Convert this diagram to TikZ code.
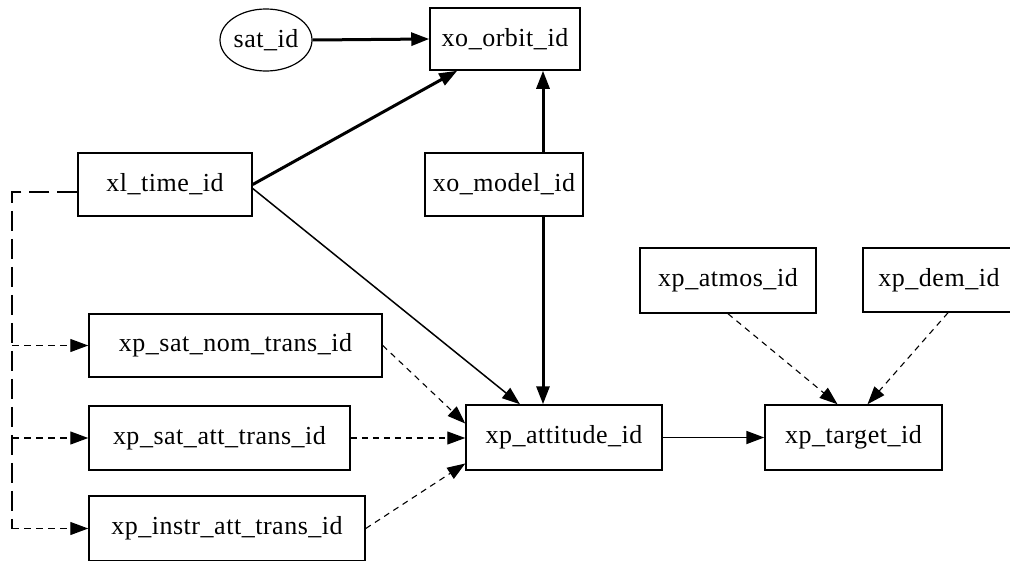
\documentclass[tikz,border=0pt]{standalone}
\usepackage{fontspec}
\newfontfamily\labfont{Liberation Serif}[LetterSpace=2]
\usetikzlibrary{shapes.geometric,arrows.meta}
\tikzset{
  box/.style={draw, line width=1.5pt, rectangle, inner sep=0pt, font=\labfont\fontsize{26pt}{30pt}\selectfont},
  oval/.style={draw, line width=1.2pt, ellipse, inner sep=0pt, font=\labfont\fontsize{26pt}{30pt}\selectfont},
  tip/.style={-{Triangle[length=18pt,width=13pt]}},
  thickedge/.style={tip, line width=3pt},
  thinedge/.style={tip, line width=1.5pt},
  medge/.style={tip, line width=1.8pt},
  dedge/.style={tip, line width=1.1pt, dash pattern=on 6pt off 5pt},
  trunk/.style={line width=1.2pt, dash pattern=on 20pt off 8pt},
  branch/.style={tip, line width=1.3pt, dash pattern=on 7pt off 5pt},
}
\begin{document}
\begin{tikzpicture}[x=1pt,y=-1pt]
\useasboundingbox (0,0) rectangle (1010,560);
\clip (0,0) rectangle (1010,560);
\fill[white] (0,0) rectangle (1010,560);
\node[oval, minimum width=92pt, minimum height=62pt] (sat) at (266,40) {sat\_id};
\node[box, minimum width=150pt, minimum height=62pt] (orbit) at (505,39) {xo\_orbit\_id};
\node[box, minimum width=174pt, minimum height=63pt] (time) at (165,184.5) {xl\_time\_id};
\node[box, minimum width=158pt, minimum height=63pt] (model) at (504,184.5) {xo\_model\_id};
\node[box, minimum width=176pt, minimum height=65pt] (atmos) at (728,280.5) {xp\_atmos\_id};
\node[box, minimum width=152pt, minimum height=64pt, text depth=6pt] (dem) at (939,280) {xp\_dem\_id};
\node[box, minimum width=293pt, minimum height=63pt] (satnom) at (235.5,345.5) {xp\_sat\_nom\_trans\_id};
\node[box, minimum width=196pt, minimum height=65pt] (att) at (564,437.5) {xp\_attitude\_id};
\node[box, minimum width=177pt, minimum height=65pt] (target) at (853.5,437.5) {xp\_target\_id};
\node[box, minimum width=261pt, minimum height=64pt] (satatt) at (219.5,438) {xp\_sat\_att\_trans\_id};
\node[box, minimum width=276pt, minimum height=65pt] (instr) at (227,528.5) {xp\_instr\_att\_trans\_id};
\coordinate (lx) at (12,0);
\coordinate (ts) at ([yshift=-7.5pt]time.west);

\draw[thickedge] (sat.east) -- (orbit.west);
\draw[thickedge] (time.east) -- ([xshift=28pt]orbit.south west);
\draw[thickedge] ([xshift=39pt]model.north) -- ([xshift=39pt]model.north |- orbit.south);
\draw[thickedge] ([xshift=39pt]model.south) -- ([xshift=39pt]model.south |- att.north);
\draw[thinedge] ([yshift=-4pt]time.east) -- ([xshift=-44pt]att.north);
\draw[dedge] (satnom.east) -- ([yshift=14pt]att.west);
\draw[dedge] (satatt.east) -- (att.west |- satatt.east);
\draw[dedge] (instr.east) -- ([yshift=-26pt]att.west);
\draw[medge] (att.east) -- (target.west);
\draw[dedge] (atmos.south) -- ([xshift=-16pt]target.north);
\draw[dedge] ([xshift=9pt]dem.south) -- ([xshift=14pt]target.north);

\draw[trunk] (ts) -- (lx |- ts) -- (lx |- instr.west);
\draw[branch] (lx |- satnom.west) -- (satnom.west);
\draw[branch] (lx |- satatt.west) -- (satatt.west);
\draw[branch] (lx |- instr.west) -- (instr.west);
\end{tikzpicture}
\end{document}
